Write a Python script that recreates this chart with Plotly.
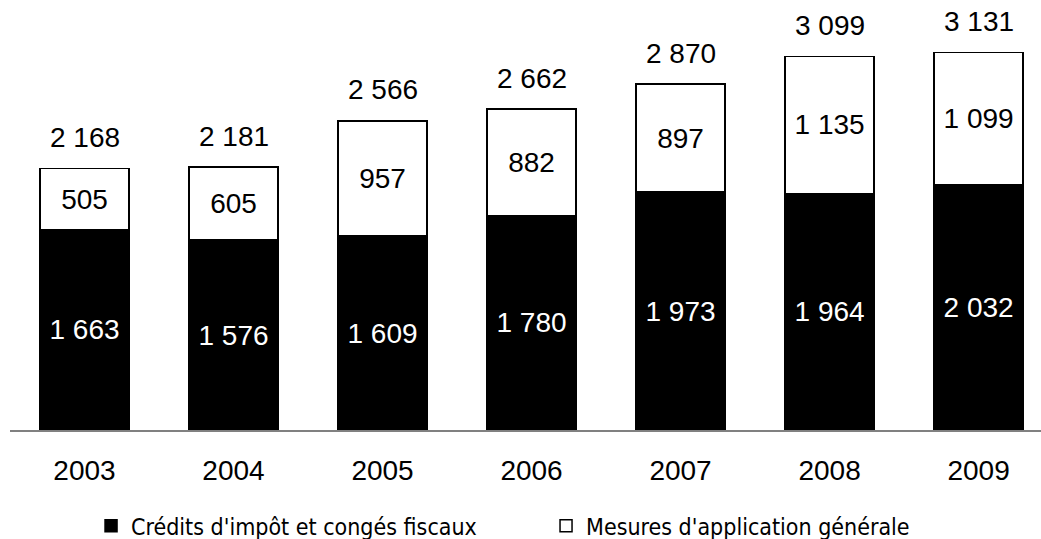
import plotly.graph_objects as go

years = ["2003", "2004", "2005", "2006", "2007", "2008", "2009"]
credits = [1663, 1576, 1609, 1780, 1973, 1964, 2032]
mesures = [505, 605, 957, 882, 897, 1135, 1099]
totals = [2168, 2181, 2566, 2662, 2870, 3099, 3131]

def fmt(v):
    return f"{v:,}".replace(",", " ")

NUMFONT = "Liberation Sans"
FS = 28
fig = go.Figure()
fig.add_trace(go.Bar(
    x=years, y=credits, name="Crédits d'impôt et congés fiscaux",
    marker=dict(color="black", line=dict(color="black", width=1.5)),
    text=[fmt(v) for v in credits], textposition="inside", insidetextanchor="middle",
    textangle=0, insidetextfont=dict(color="white", size=FS, family=NUMFONT),
    width=0.595,
))
fig.add_trace(go.Bar(
    x=years, y=mesures, name="Mesures d'application générale",
    marker=dict(color="white", line=dict(color="black", width=1.5)),
    text=[fmt(v) for v in mesures], textposition="inside", insidetextanchor="middle",
    textangle=0, insidetextfont=dict(color="black", size=FS, family=NUMFONT),
    width=0.595,
))
for i, t in enumerate(totals):
    fig.add_annotation(x=i, y=t, xref="x", yref="y", text=fmt(t), showarrow=False,
                       yanchor="middle", yshift=31,
                       font=dict(size=FS, color="black", family=NUMFONT))

fig.update_layout(
    barmode="stack", width=1041, height=539,
    margin=dict(l=10, r=0, t=0, b=109, autoexpand=False),
    plot_bgcolor="white", paper_bgcolor="white",
    showlegend=True,
    legend=dict(orientation="h", x=0.0786, xanchor="left", y=-0.223, yanchor="middle",
                font=dict(family="DejaVu Sans Condensed, Liberation Sans Narrow, sans-serif",
                          size=23, color="black"),
                entrywidth=410, itemwidth=30, traceorder="normal"),
    xaxis=dict(type="category", range=[-0.5, 6.419], showgrid=False, showline=True,
               linecolor="#808080", linewidth=1.5, ticks="outside", ticklen=15,
               tickcolor="rgba(0,0,0,0)",
               tickfont=dict(size=FS, family=NUMFONT, color="black"), zeroline=False),
    yaxis=dict(range=[0, 3568], visible=False, showgrid=False, zeroline=False),
)
fig.write_html("out.html", config={"displayModeBar": False},
               post_script="document.body.style.margin='0';")
